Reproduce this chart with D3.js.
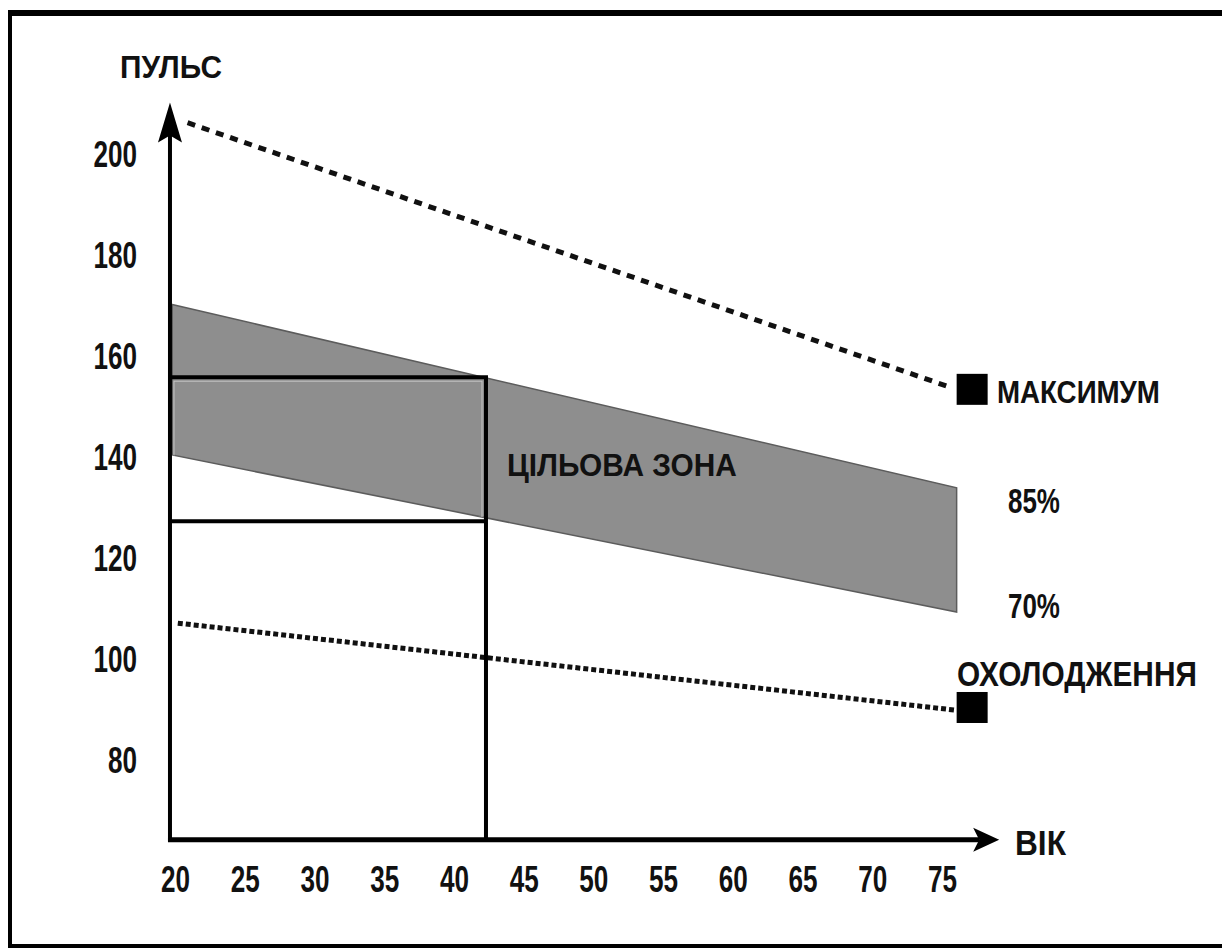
<!DOCTYPE html>
<html>
<head>
<meta charset="utf-8">
<script src="https://cdn.jsdelivr.net/npm/d3@7"></script>
<style>
    body { margin: 0; background: #fff; }
    text { font-family: "Liberation Sans", Arial, sans-serif; font-weight: bold; fill: #111; }
</style>
</head>
<body>
<div id="chart"></div>
<script>

// Data (ages in years, pulse in beats/min)
var ageTicks = [20, 25, 30, 35, 40, 45, 50, 55, 60, 65, 70, 75];
var pulseTicks = [80, 100, 120, 140, 160, 180, 200];

var zoneAges = [19.8, 76.05];
var zoneUpper = [170, 133.7];   // 85%
var zoneLower = [140.2, 109.1]; // 70%

var maxAges = [20.9, 75.7];
var maxPulse = [206, 153.5];

var coolAges = [20.2, 75.9];
var coolPulse = [106.9, 89.7];

var exampleAge = 42.3;
var exampleRange = [127.1, 155.6];

var markerAge = 76.05;
var markerPulse = [153.2, 90.2];

var axisStart = [19.64, 64];   // [age, pulse] where the axes cross
var axisEnd = [79.1, 210];     // arrow tips


HeartZoneVis = function(_parentElement){
    this.parentElement = _parentElement;
    this.initVis();
}

HeartZoneVis.prototype.initVis = function(){
    var vis = this;

    vis.width = 1222;
    vis.height = 949;

    vis.svg = d3.select("#" + vis.parentElement).append("svg")
        .attr("width", vis.width)
        .attr("height", vis.height);

    vis.svg.append("rect")
        .attr("width", vis.width)
        .attr("height", vis.height)
        .attr("fill", "#fff");

    // Scales
    vis.x = d3.scaleLinear()
        .domain([20, 75])
        .range([175, 942]);

    vis.y = d3.scaleLinear()
        .domain([80, 200])
        .range([759, 153]);

    vis.updateVis();
}

HeartZoneVis.prototype.updateVis = function(){
    var vis = this;
    var x = vis.x, y = vis.y;

    // Frame
    vis.svg.append("line").attr("x1", 8).attr("x2", 1222).attr("y1", 13).attr("y2", 13)
        .attr("stroke", "#000").attr("stroke-width", 6);
    vis.svg.append("line").attr("x1", 10).attr("x2", 10).attr("y1", 10).attr("y2", 948)
        .attr("stroke", "#000").attr("stroke-width", 4);
    vis.svg.append("line").attr("x1", 8).attr("x2", 1222).attr("y1", 946).attr("y2", 946)
        .attr("stroke", "#000").attr("stroke-width", 4);

    // Target zone band
    var band = zoneAges.map(function(a, i){
        return { age: a, hi: zoneUpper[i], lo: zoneLower[i] };
    });
    var area = d3.area()
        .x(function(d){ return x(d.age); })
        .y0(function(d){ return y(d.lo); })
        .y1(function(d){ return y(d.hi); });

    vis.svg.append("clipPath")
        .attr("id", "band-clip")
        .append("path")
        .datum(band)
        .attr("d", area);

    vis.svg.append("path")
        .datum(band)
        .attr("d", area)
        .attr("fill", "#8e8e8e")
        .attr("stroke", "#5c5c5c")
        .attr("stroke-width", 1.5);

    // Max pulse line
    var line = d3.line()
        .x(function(d){ return x(d[0]); })
        .y(function(d){ return y(d[1]); });

    vis.svg.append("path")
        .datum(d3.zip(maxAges, maxPulse))
        .attr("d", line)
        .attr("fill", "none")
        .attr("stroke", "#111")
        .attr("stroke-width", 5)
        .attr("stroke-dasharray", "8,7");

    // Cool-down line
    vis.svg.append("path")
        .datum(d3.zip(coolAges, coolPulse))
        .attr("d", line)
        .attr("fill", "none")
        .attr("stroke", "#111")
        .attr("stroke-width", 5)
        .attr("stroke-dasharray", "5,3");

    // Example: 42 years
    var rx0 = x(axisStart[0]), rx1 = x(exampleAge);
    var ry0 = y(exampleRange[1]), ry1 = y(exampleRange[0]);

    // light inner edge, only visible over the grey band
    vis.svg.append("rect")
        .attr("clip-path", "url(#band-clip)")
        .attr("x", rx0 + 4).attr("y", ry0 + 4)
        .attr("width", rx1 - rx0 - 8).attr("height", ry1 - ry0 - 8)
        .attr("fill", "none")
        .attr("stroke", "#c4c4c4")
        .attr("stroke-width", 1);

    vis.svg.append("path")
        .attr("d", "M" + rx0 + "," + ry0 + "H" + rx1 + "V" + y(axisStart[1]) +
            "M" + rx0 + "," + ry1 + "H" + rx1)
        .attr("fill", "none")
        .attr("stroke", "#000")
        .attr("stroke-width", 4);

    // Markers
    vis.svg.selectAll(".marker")
        .data(markerPulse)
        .enter().append("rect")
        .attr("class", "marker")
        .attr("x", x(markerAge))
        .attr("y", function(d){ return y(d) - 15.5; })
        .attr("width", 31)
        .attr("height", 31)
        .attr("fill", "#000");

    // Axes lines + arrows
    var ox = x(axisStart[0]), oy = y(axisStart[1]);
    var tx = x(axisEnd[0]), ty = y(axisEnd[1]);

    vis.svg.append("line")
        .attr("x1", ox).attr("x2", ox).attr("y1", oy + 2).attr("y2", ty + 30)
        .attr("stroke", "#000").attr("stroke-width", 4);
    vis.svg.append("line")
        .attr("x1", ox - 2).attr("x2", tx - 20).attr("y1", oy).attr("y2", oy)
        .attr("stroke", "#000").attr("stroke-width", 5);

    vis.svg.append("path")
        .attr("d", "M" + ox + "," + ty + "L" + (ox - 12) + "," + (ty + 40) + "L" + ox + "," + (ty + 33) +
            "L" + (ox + 12) + "," + (ty + 40) + "Z")
        .attr("fill", "#000");
    vis.svg.append("path")
        .attr("d", "M" + tx + "," + oy + "L" + (tx - 26) + "," + (oy - 12) + "L" + (tx - 20) + "," + oy +
            "L" + (tx - 26) + "," + (oy + 12) + "Z")
        .attr("fill", "#000");

    // Tick labels via d3 axes
    vis.xAxis = d3.axisBottom(x)
        .tickValues(ageTicks)
        .tickSize(0)
        .tickPadding(26);

    vis.yAxis = d3.axisLeft(y)
        .tickValues(pulseTicks)
        .tickSize(0)
        .tickPadding(33);

    var gx = vis.svg.append("g")
        .attr("class", "x-axis axis")
        .attr("transform", "translate(0," + oy + ")")
        .call(vis.xAxis);

    var gy = vis.svg.append("g")
        .attr("class", "y-axis axis")
        .attr("transform", "translate(" + ox + ",0)")
        .call(vis.yAxis);

    [gx, gy].forEach(function(g){
        g.select(".domain").remove();
        g.selectAll("text")
            .attr("fill", "#111")
            .style("font-family", '"Liberation Sans", Arial, sans-serif')
            .style("font-weight", "bold")
            .style("font-size", "37px")
            .attr("textLength", function(d){ return String(d).length * 14.5; })
            .attr("lengthAdjust", "spacingAndGlyphs");
    });
    gy.selectAll("text").attr("dy", "0.36em");

    // Labels (squeezed horizontally to the width seen in the picture)
    var labels = [
        { t: "ПУЛЬС", x: 120, y: 78, size: 32, w: 102 },
        { t: "МАКСИМУМ", x: 997, y: 403, size: 32, w: 163 },
        { t: "ЦІЛЬОВА ЗОНА", x: 507, y: 476, size: 32, w: 230 },
        { t: "85%", x: 1008, y: 513, size: 35, w: 52 },
        { t: "70%", x: 1008, y: 618, size: 35, w: 52 },
        { t: "ОХОЛОДЖЕННЯ", x: 957, y: 686, size: 35, w: 240 },
        { t: "ВІК", x: 1015, y: 855, size: 35, w: 51 }
    ];

    vis.svg.selectAll(".label")
        .data(labels)
        .enter().append("text")
        .attr("class", "label")
        .attr("font-size", function(d){ return d.size + "px"; })
        .text(function(d){ return d.t; })
        .attr("transform", function(d){
            var sx = d.w / this.getComputedTextLength();
            return "translate(" + d.x + "," + d.y + ") scale(" + sx.toFixed(3) + ",1)";
        });
}

var heartVis = new HeartZoneVis("chart");

</script>
</body>
</html>
